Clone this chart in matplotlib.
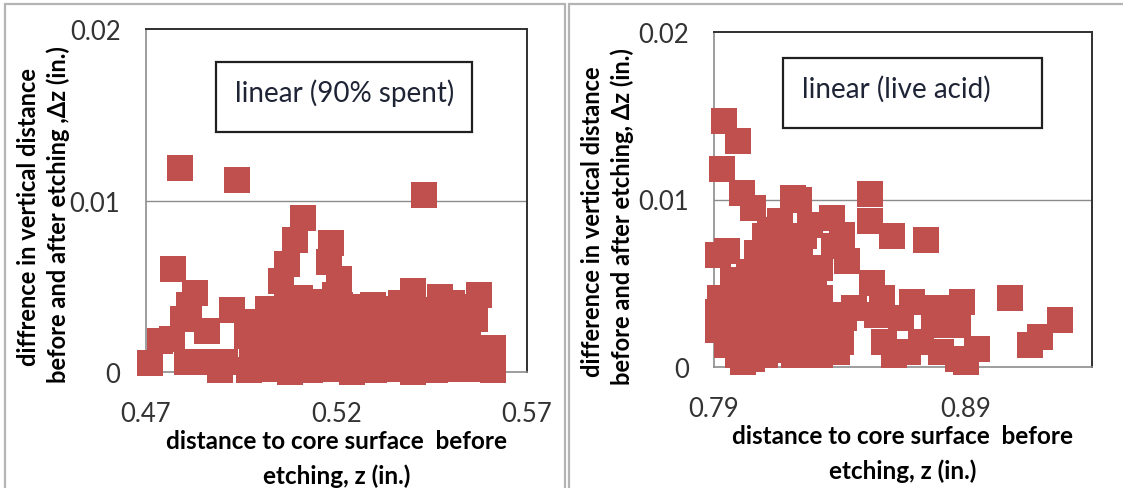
import matplotlib.pyplot as plt
from matplotlib.patches import Rectangle

plt.rcParams['font.family'] = ['Lato', 'DejaVu Sans']

# 90% spent acid: z (in.) and dz (in.)
spent_z = [0.4790, 0.4941, 0.5431, 0.5114, 0.5092, 0.5186, 0.5181, 0.5071, 0.4773, 0.5207,
           0.5055, 0.4831, 0.4815, 0.4799, 0.4926, 0.4860, 0.4738, 0.4769, 0.4712, 0.4808,
           0.4852, 0.4895, 0.4908, 0.5402, 0.5472, 0.5504, 0.5575, 0.5564, 0.5610, 0.5585,
           0.5611, 0.5551, 0.5297, 0.5363, 0.5105, 0.5136, 0.5232, 0.5197, 0.5053, 0.4974,
           0.498, 0.504, 0.509, 0.515, 0.521, 0.526, 0.532, 0.537, 0.543, 0.548, 0.553,
           0.4965, 0.501, 0.507, 0.512, 0.517, 0.523, 0.529, 0.534, 0.539, 0.545, 0.550, 0.5545,
           0.498, 0.503, 0.509, 0.514, 0.519, 0.525, 0.531, 0.536, 0.541, 0.547, 0.552,
           0.4995, 0.505, 0.511, 0.516, 0.522, 0.527, 0.533, 0.538, 0.543, 0.549, 0.553,
           0.497, 0.502, 0.508, 0.513, 0.519, 0.524, 0.530, 0.535, 0.540, 0.546, 0.551,
           0.502, 0.507, 0.516, 0.526, 0.533, 0.540, 0.546, 0.551,
           0.512, 0.521, 0.529, 0.537, 0.544]
spent_dz = [0.0119, 0.0112, 0.0103, 0.0090, 0.0077, 0.0075, 0.0064, 0.0063, 0.0060, 0.0054,
            0.0053, 0.0046, 0.0039, 0.0031, 0.0036, 0.0024, 0.0018, 0.0019, 0.0005, 0.0006,
            0.0006, 0.0001, 0.0006, 0.0047, 0.0044, 0.0040, 0.0045, 0.0031, 0.0014, 0.0013,
            0.0001, 0.0002, 0.0039, 0.0034, 0.0043, 0.0041, 0.0036, 0.0045, 0.0035, 0.0026,
            0.0029, 0.0031, 0.0028, 0.0032, 0.0030, 0.0027, 0.0031, 0.0029, 0.0032, 0.0028, 0.0030,
            0.0021, 0.0023, 0.0020, 0.0024, 0.0022, 0.0019, 0.0023, 0.0021, 0.0024, 0.0020, 0.0022, 0.0019,
            0.0013, 0.0015, 0.0012, 0.0016, 0.0014, 0.0011, 0.0015, 0.0013, 0.0016, 0.0012, 0.0014,
            0.0007, 0.0005, 0.0008, 0.0006, 0.0007, 0.0004, 0.0008, 0.0006, 0.0007, 0.0005, 0.0008,
            0.0001, 0.0002, 0.0000, 0.0001, 0.0002, 0.0000, 0.0001, 0.0002, 0.0000, 0.0001, 0.0002,
            0.0037, 0.0038, 0.0036, 0.0038, 0.0037, 0.0039, 0.0036, 0.0038,
            0.0035, 0.0039, 0.0036, 0.0040, 0.0034]

# live acid
live_z = [0.7941, 0.7997, 0.7933, 0.8013, 0.8053, 0.8212, 0.8236, 0.8519, 0.8519, 0.8605,
          0.8741, 0.8369, 0.8409, 0.8282, 0.8163, 0.8123, 0.8375, 0.8429, 0.7951, 0.7915,
          0.8322, 0.8528, 0.9073, 0.9272, 0.9192, 0.9152, 0.8884, 0.8944, 0.8900, 0.8567,
          0.8687, 0.8787, 0.8867, 0.8548, 0.8641, 0.8774, 0.8575, 0.8668, 0.8721, 0.8800,
          0.8867, 0.8615, 0.8455, 0.8415, 0.8356, 0.8322, 0.8336, 0.8402, 0.8322, 0.8269,
          0.7917, 0.7917, 0.7951, 0.7997, 0.8050, 0.7977, 0.8030, 0.8070, 0.8083, 0.8123,
          0.8136, 0.8150, 0.8163, 0.8216, 0.8190, 0.8203, 0.8229, 0.8216, 0.8256, 0.8102,
          0.8030, 0.8004, 0.8110, 0.8070, 0.8282, 0.8256, 0.8163, 0.8037, 0.8004, 0.7924,
          0.8269, 0.8296, 0.8203, 0.8103, 0.8017, 0.8243, 0.8123, 0.8150, 0.8389, 0.8826,
          0.7970, 0.8000, 0.8060, 0.8090, 0.8130, 0.8180, 0.8180, 0.8080, 0.7950, 0.8290,
          0.8270, 0.8310, 0.8030, 0.8190, 0.8100, 0.8140, 0.8240]
live_dz = [0.0147, 0.0135, 0.0118, 0.0104, 0.0095, 0.0101, 0.0100, 0.0103, 0.0087, 0.0078,
           0.0076, 0.0089, 0.0079, 0.0085, 0.0087, 0.0082, 0.0072, 0.0063, 0.0069, 0.0067,
           0.0059, 0.0050, 0.0041, 0.0028, 0.0018, 0.0013, 0.0039, 0.0011, 0.0003, 0.0041,
           0.0039, 0.0035, 0.0025, 0.0031, 0.0029, 0.0025, 0.0015, 0.0009, 0.0015, 0.0009,
           0.0005, 0.0007, 0.0035, 0.0029, 0.0031, 0.0041, 0.0021, 0.0015, 0.0007, 0.0009,
           0.0033, 0.0022, 0.0013, 0.0007, 0.0005, 0.0052, 0.0041, 0.0068, 0.0059, 0.0049,
           0.0037, 0.0025, 0.0015, 0.0007, 0.0068, 0.0059, 0.0049, 0.0037, 0.0025, 0.0078,
           0.0029, 0.0021, 0.0015, 0.0025, 0.0017, 0.0078, 0.0076, 0.0057, 0.0045, 0.0041,
           0.0057, 0.0045, 0.0029, 0.0007, 0.0003, 0.0015, 0.0061, 0.0041, 0.0009, 0.0031,
           0.0030, 0.0038, 0.0033, 0.0020, 0.0010, 0.0021, 0.0051, 0.0045, 0.0020, 0.0027,
           0.0037, 0.0010, 0.0010, 0.0035, 0.0053, 0.0072, 0.0068]

spent_xticks = [0.47, 0.52, 0.57]
live_xticks = [0.79, 0.89]
yticks = [0, 0.01, 0.02]
ytick_labels = ['0', '0.01', '0.02']

RED = '#C0504D'
W, H = 1123, 489

fig = plt.figure(figsize=(W / 100, H / 100), dpi=100)

# chart area frames
fig.add_artist(Rectangle((5 / W, -0.05), 560 / W, 1.05 - 5 / H, transform=fig.transFigure,
                         fill=False, ec='#B4B4B4', lw=1.6))
fig.add_artist(Rectangle((569 / W, -0.05), 0.6, 1.05 - 5 / H, transform=fig.transFigure,
                         fill=False, ec='#B4B4B4', lw=1.6))


def make_panel(rect, z, dz, xticks, xlim, box, note):
    ax = fig.add_axes(rect)
    ax.scatter(z, dz, marker='s', s=370, color=RED, linewidths=0, clip_on=False, zorder=3)
    ax.set_xlim(*xlim)
    ax.set_ylim(0, 0.02)
    ax.set_xticks(xticks)
    ax.set_xticklabels([f'{t:.2f}' for t in xticks])
    ax.set_yticks(yticks)
    ax.set_yticklabels(ytick_labels)
    ax.tick_params(length=0, labelsize=18.5, labelcolor='#333333')
    ax.tick_params(axis='x', pad=21)
    ax.tick_params(axis='y', pad=18)
    ax.axhline(0.01, color='#8C8C8C', lw=1.0, zorder=1)
    for s in ['left', 'bottom']:
        ax.spines[s].set_color('#8C8C8C')
        ax.spines[s].set_linewidth(1.2)
    for s in ['top', 'right']:
        ax.spines[s].set_color('#303030')
        ax.spines[s].set_linewidth(1.4)
    ax.set_xlabel('distance to core surface  before\netching, z (in.)', fontsize=17.5,
                  fontweight='bold', labelpad=2, linespacing=1.6)
    # annotation box
    x0, y0, x1, y1 = box
    ax.add_patch(Rectangle((x0, y0), x1 - x0, y1 - y0, transform=ax.transAxes,
                           fill=False, ec='#202020', lw=1.6, zorder=4))
    ax.text(x0 + 0.05, (y0 + y1) / 2 + 0.015, note, transform=ax.transAxes,
            fontsize=20, color='#1E2435', va='center', ha='left', zorder=5)
    return ax


ax1 = make_panel([145.5 / W, 116 / H, 381.5 / W, 343 / H], spent_z, spent_dz,
                 spent_xticks, (0.47, 0.57),
                 (0.185, 0.700, 0.856, 0.904), 'linear (90% spent)')
ax2 = make_panel([714 / W, 121 / H, 378 / W, 335 / H], live_z, live_dz,
                 live_xticks, (0.79, 0.94),
                 (0.183, 0.713, 0.868, 0.922), 'linear (live acid)')

label_kw = dict(rotation=90, fontsize=17, fontweight='bold', ha='center', va='center')
fig.text(29 / W, 1 - 217 / H, 'diffrence in vertical distance', **label_kw)
fig.text(58 / W, 1 - 215 / H, 'before and after etching ,\u0394z (in.)', **label_kw)
fig.text(592 / W, 1 - 222 / H, 'difference in vertical distance', **label_kw)
fig.text(622 / W, 1 - 217 / H, 'before and after etching, \u0394z (in.)', **label_kw)

fig.savefig('out.png', dpi=100)
